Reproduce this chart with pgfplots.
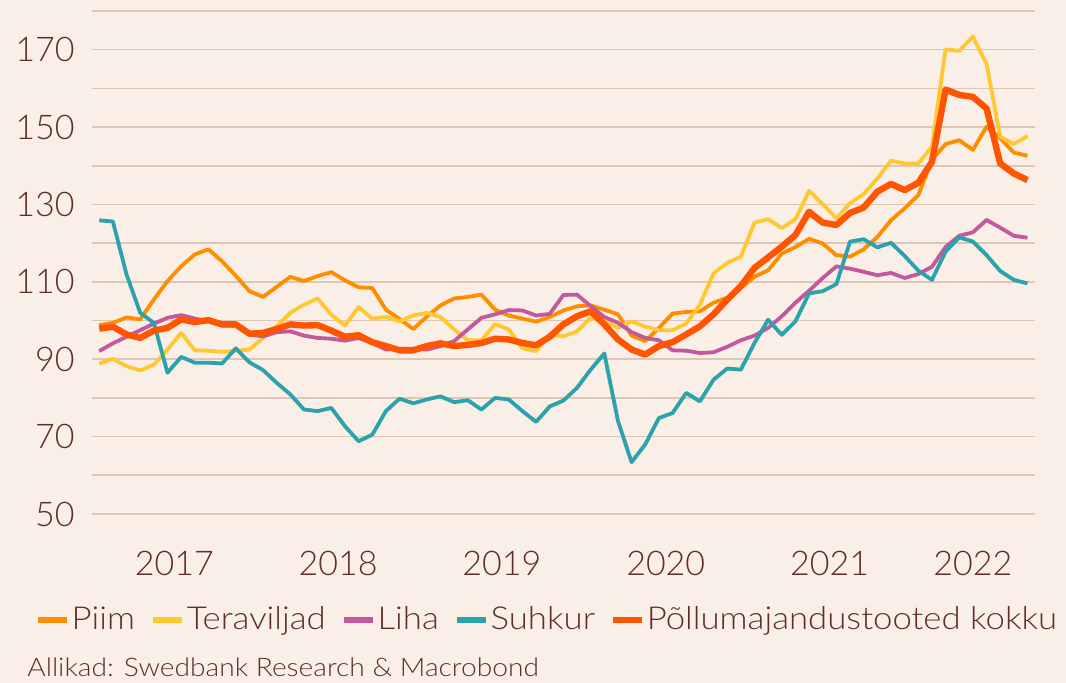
\documentclass[border=0pt]{standalone}
\usepackage{pgfplots}
\pgfplotsset{compat=1.18}
\usepackage{fontspec}
\setmainfont{Lato Light}
\newfontfamily\wfont{Lato Light}[FakeStretch=1.1]
\definecolor{bg}{RGB}{250,239,230}
\definecolor{gridc}{RGB}{221,198,182}
\definecolor{txt}{RGB}{92,46,46}
\definecolor{piim}{RGB}{255,141,0}
\definecolor{tera}{RGB}{255,200,48}
\definecolor{liha}{RGB}{196,88,158}
\definecolor{suhk}{RGB}{44,162,172}
\definecolor{kokku}{RGB}{255,84,0}
\begin{document}
\begin{tikzpicture}
\fill[bg] (0,0) rectangle (533pt,341.5pt);
\begin{axis}[
  at={(46pt,84.5pt)}, anchor=south west,
  scale only axis, width=471.5pt, height=251.5pt,
  xmin=-0.53, xmax=68.55, ymin=50, ymax=180,
  axis line style={draw=none},
  major tick length=0pt,
  ytick={50,60,...,180},
  yticklabels={50,,70,,90,,110,,130,,150,,170,},
  xtick={5.5,17.5,29.5,41.5,53.5,64},
  xticklabels={2017,2018,2019,2020,2021,2022},
  ymajorgrids=true,
  grid style={gridc, line width=0.8pt},
  tick label style={font=\fontsize{17}{20}\selectfont, text=txt},
  yticklabel style={anchor=east, inner sep=0pt, xshift=-8.5pt},
  xticklabel style={anchor=north, inner sep=0pt, yshift=-18.3pt},
  legend style={at={(-0.0604,-0.2107)}, anchor=west, draw=none, fill=none,
    inner sep=0pt, font=\wfont\fontsize{15.8}{18}\selectfont, text=txt,
    nodes={inner xsep=1pt},
    /tikz/every even column/.append style={column sep=6.8pt}},
  legend columns=-1,
  legend image code/.code={\draw[line width=2.6pt] (0pt,0pt) -- (14.5pt,0pt);},
  every axis plot/.append style={line join=round},
]
\addplot[piim, line width=1.9pt] table[x expr=\coordindex, y index=0] {
v
98.8
99.4
100.8
100.3
105.4
110.2
114.0
117.1
118.4
115.3
111.6
107.6
106.1
108.7
111.3
110.2
111.5
112.5
110.4
108.6
108.4
102.8
100.4
97.8
101.0
103.9
105.7
106.1
106.7
102.8
101.3
100.5
99.7
100.9
102.6
103.7
103.9
102.8
101.6
96.1
94.7
98.1
101.8
102.2
102.4
104.6
105.9
108.4
111.3
113.0
117.3
119.0
121.1
119.9
116.9
116.5
118.4
121.6
125.9
129.0
132.4
141.5
145.6
146.6
144.1
150.1
147.1
143.4
142.6
};
\addlegendentry{Piim}
\addplot[tera, line width=1.9pt] table[x expr=\coordindex, y index=0] {
v
88.9
90.1
88.2
87.1
88.6
92.5
96.8
92.3
92.2
91.9
92.2
92.5
95.5
98.5
102.0
104.1
105.7
101.5
98.7
103.5
100.5
100.9
99.8
101.3
102.0
100.9
97.7
94.9
94.9
99.1
97.7
92.8
92.1
96.4
95.9
97.2
100.7
99.8
98.1
99.8
98.4
97.5
97.5
99.2
104.1
112.2
114.9
116.5
125.3
126.2
123.9
126.2
133.5
130.1
126.4
130.3
132.7
136.7
141.3
140.6
140.6
144.9
170.1
169.7
173.4
166.3
147.5
145.6
147.7
};
\addlegendentry{Teraviljad}
\addplot[liha, line width=1.9pt] table[x expr=\coordindex, y index=0] {
v
92.1
94.1
95.8
97.5
99.2
100.7
101.4
100.5
99.8
98.7
98.7
96.4
95.9
97.0
97.2
96.1
95.5
95.3
94.8
95.5
94.2
92.5
92.7
92.7
92.5
93.4
94.7
97.7
100.7
101.6
102.7
102.6
101.3
101.7
106.6
106.7
103.7
100.9
99.4
97.0
95.5
94.9
92.3
92.2
91.6
91.8
93.2
94.9
96.1
98.1
101.1
104.6
107.7
111.0
114.0
113.4
112.6
111.7
112.3
111.0
112.0
113.9
119.0
121.9
122.8
126.0
124.0
121.9
121.4
};
\addlegendentry{Liha}
\addplot[suhk, line width=1.9pt] table[x expr=\coordindex, y index=0] {
v
125.9
125.6
111.9
102.0
99.4
86.5
90.6
89.1
89.1
88.9
92.8
89.2
87.2
83.9
80.9
77.0
76.6
77.4
72.7
68.8
70.5
76.6
79.8
78.6
79.6
80.4
78.9
79.4
77.0
80.0
79.6
76.6
73.8
77.8
79.3
82.6
87.3
91.5
74.0
63.4
68.0
74.8
76.1
81.3
79.1
84.7
87.6
87.3
94.2
100.2
96.3
99.8
107.0
107.6
109.4
120.4
121.0
118.9
120.1
116.7
112.9
110.5
117.8
121.5
120.4
116.9
112.8
110.5
109.6
};
\addlegendentry{Suhkur}
\addplot[kokku, line width=3.2pt] table[x expr=\coordindex, y index=0] {
v
97.9
98.4
96.4
95.5
97.4
98.1
100.3
99.6
100.1
99.0
99.0
96.6
96.8
97.8
99.0
98.7
98.8
97.4
95.8
96.2
94.4
93.4
92.3
92.3
93.4
94.1
93.4
93.7
94.2
95.3
95.1
94.2
93.6
95.8
99.0
101.1
102.4
99.0
95.1
92.5
91.2
93.4
94.4
96.4
98.5
101.6
105.4
108.9
113.6
116.3
119.1
122.1
128.1
125.3
124.7
127.8
129.2
133.3
135.3
133.7
135.6
141.0
159.7
158.3
157.8
154.8
140.6
138.0
136.3
};
\addlegendentry{Põllumajandustooted kokku}
\end{axis}
\node[anchor=base west, inner sep=0pt, text=txt, font=\wfont\fontsize{12.8}{14}\selectfont] at (13.5pt,3pt) {Allikad: Swedbank Research \& Macrobond};
\pgfresetboundingbox
\useasboundingbox (0,0) rectangle (533pt,341.5pt);
\end{tikzpicture}
\end{document}
